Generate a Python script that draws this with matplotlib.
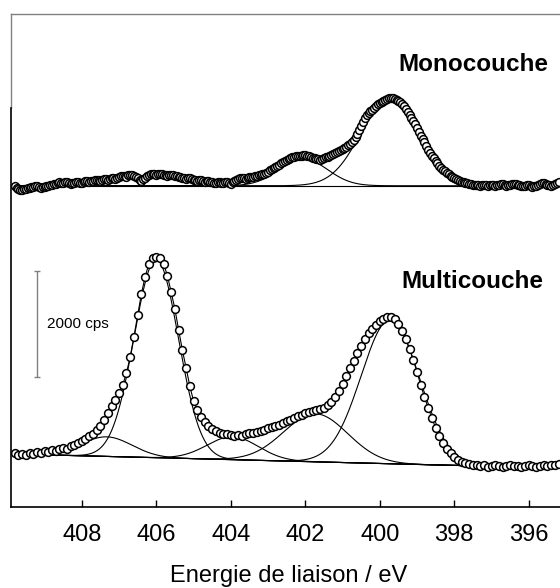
import numpy as np
import matplotlib
matplotlib.use("Agg")
from matplotlib import pyplot as plt

plt.rcParams["font.family"] = ["Liberation Sans", "DejaVu Sans"]

# binding energy grids of the spectrometer (eV)
e_start = 409.8
multi_step = 0.1
mono_step = 0.05

# N 1s multilayer spectrum (cps)
multi_cps = [
    1020, 980, 1000, 980, 1020, 1000, 1040, 1020, 1060, 1040,
    1075, 1055, 1095, 1115, 1095, 1150, 1170, 1210, 1245, 1285,
    1340, 1380, 1455, 1530, 1640, 1775, 1905, 2020, 2150, 2300,
    2530, 2830, 3210, 3620, 4020, 4340, 4585, 4700, 4720, 4700,
    4585, 4360, 4055, 3735, 3340, 2965, 2625, 2285, 2000, 1830,
    1700, 1605, 1530, 1470, 1435, 1395, 1380, 1380, 1360, 1340,
    1360, 1340, 1380, 1395, 1395, 1415, 1435, 1455, 1490, 1510,
    1530, 1545, 1585, 1625, 1640, 1680, 1715, 1735, 1775, 1795,
    1810, 1830, 1850, 1870, 1925, 1980, 2075, 2190, 2320, 2470,
    2625, 2755, 2905, 3040, 3170, 3285, 3360, 3435, 3510, 3550,
    3585, 3585, 3550, 3455, 3320, 3170, 2980, 2775, 2545, 2300,
    2075, 1870, 1680, 1490, 1340, 1210, 1095, 1020, 945, 885,
    850, 830, 810, 795, 790, 775, 795, 755, 775, 795,
    775, 755, 775, 795, 775, 770, 755, 775, 795, 775,
    755, 775, 795, 775, 790, 795, 810,
]

# N 1s monolayer spectrum (cps), finer step, plotted with a vertical offset
mono_cps = [
    1000, 965, 945, 920, 925, 940, 945, 965, 960, 975,
    980, 990, 1000, 975, 960, 970, 980, 995, 1000, 1005,
    1020, 1035, 1040, 1060, 1075, 1060, 1055, 1070, 1075, 1055,
    1040, 1050, 1055, 1070, 1075, 1060, 1055, 1080, 1095, 1085,
    1075, 1090, 1095, 1110, 1115, 1100, 1095, 1115, 1130, 1120,
    1115, 1135, 1150, 1140, 1130, 1155, 1170, 1185, 1190, 1175,
    1170, 1195, 1210, 1200, 1190, 1170, 1150, 1115, 1095, 1120,
    1150, 1185, 1210, 1220, 1225, 1215, 1210, 1220, 1225, 1215,
    1210, 1200, 1190, 1205, 1210, 1195, 1190, 1180, 1170, 1160,
    1150, 1140, 1130, 1145, 1150, 1130, 1115, 1100, 1095, 1105,
    1115, 1090, 1075, 1085, 1095, 1080, 1075, 1060, 1055, 1070,
    1075, 1060, 1055, 1065, 1075, 1055, 1040, 1070, 1095, 1115,
    1130, 1140, 1150, 1140, 1130, 1150, 1170, 1165, 1170, 1180,
    1190, 1200, 1210, 1220, 1225, 1245, 1265, 1290, 1320, 1340,
    1360, 1380, 1395, 1425, 1455, 1475, 1490, 1510, 1530, 1540,
    1545, 1555, 1565, 1560, 1565, 1575, 1585, 1570, 1565, 1545,
    1530, 1520, 1510, 1500, 1490, 1510, 1530, 1540, 1545, 1565,
    1585, 1605, 1625, 1645, 1660, 1680, 1700, 1720, 1735, 1765,
    1795, 1830, 1870, 1925, 1980, 2055, 2130, 2210, 2285, 2335,
    2380, 2410, 2435, 2475, 2510, 2540, 2565, 2585, 2605, 2625,
    2640, 2655, 2660, 2650, 2640, 2625, 2605, 2575, 2545, 2500,
    2455, 2400, 2340, 2285, 2225, 2160, 2095, 2020, 1945, 1885,
    1830, 1755, 1680, 1620, 1565, 1515, 1470, 1425, 1380, 1340,
    1300, 1270, 1245, 1215, 1190, 1170, 1150, 1130, 1115, 1095,
    1075, 1065, 1055, 1045, 1040, 1030, 1020, 1015, 1020, 1005,
    1000, 1010, 1020, 1005, 1000, 1015, 1020, 1010, 1000, 1010,
    1020, 1030, 1040, 1020, 1000, 1010, 1020, 1035, 1040, 1030,
    1020, 1010, 1000, 995, 1000, 1010, 1020, 1000, 980, 990,
    1000, 1020, 1040, 1050, 1055, 1040, 1020, 1005, 1000, 1020,
    1040, 1060, 1075,
]
mono_offset = 5060

# fitted components: centre (eV), height (cps), sigma (eV)
multi_centres = [407.33, 406.0, 403.95, 401.72, 399.72]
multi_heights = [370, 3740, 434, 906, 2717]
multi_sigmas = [0.68, 0.595, 0.685, 0.86, 0.78]
multi_bg_e = [409.9, 397.5, 395.0]
multi_bg = [1000, 775, 775]

mono_centres = [402.05, 399.72]
mono_heights = [510, 1660]
mono_sigmas = [0.64, 0.78]
mono_bg = 1000

x_ticks = [408, 406, 404, 402, 400, 398, 396]


def gauss(e, centre, height, sigma):
    return height * np.exp(-(e - centre) ** 2 / (2.0 * sigma ** 2))


e_multi = np.round(e_start - multi_step * np.arange(len(multi_cps)), 2)
e_mono = np.round(e_start - mono_step * np.arange(len(mono_cps)), 2)
e_fine = np.linspace(409.9, 395.0, 800)

fig = plt.figure(figsize=(5.6, 5.88), dpi=100)
ax = fig.add_axes([11 / 560, 81 / 588, 555 / 560, 493 / 588])

mk = dict(marker="o", ms=5.6, mfc="white", mec="black", mew=1.1,
          color="black", lw=0.8)

# multicouche
bg_m = np.interp(e_fine, multi_bg_e[::-1], multi_bg[::-1])
ax.plot(e_fine, bg_m, color="black", lw=0.8)
for c, h, s in zip(multi_centres, multi_heights, multi_sigmas):
    ax.plot(e_fine, bg_m + gauss(e_fine, c, h, s), color="black", lw=0.8)
ax.plot(e_multi, multi_cps, **mk)

# monocouche
ax.plot(e_fine, np.full_like(e_fine, mono_bg + mono_offset), color="black", lw=0.8)
for c, h, s in zip(mono_centres, mono_heights, mono_sigmas):
    ax.plot(e_fine, mono_bg + mono_offset + gauss(e_fine, c, h, s),
            color="black", lw=0.8)
ax.plot(e_mono, np.array(mono_cps) + mono_offset, **mk)

# scale bar
ax.errorbar([409.21], [3450], yerr=[1000], color="#808080", lw=1.0,
            capsize=2.5, capthick=1.0)
ax.text(408.94, 3450, "2000 cps", fontsize=11, ha="left", va="center")

ax.text(399.49, 8340, "Monocouche", fontsize=17.5, fontweight="bold",
        ha="left", va="center")
ax.text(399.41, 4246, "Multicouche", fontsize=17.5, fontweight="bold",
        ha="left", va="center")

ax.set_xlim(409.9, 395.0)
ax.set_ylim(0, 9300)
ax.set_xticks(x_ticks)
ax.set_yticks([])
ax.tick_params(axis="x", direction="in", length=5, width=1.0,
               labelsize=17, pad=12)
ax.set_xlabel("Energie de liaison / eV", fontsize=17, labelpad=14)

ax.spines["right"].set_visible(False)
ax.spines["top"].set_color("#808080")
ax.spines["top"].set_linewidth(1.0)
ax.spines["bottom"].set_linewidth(1.2)
ax.spines["left"].set_linewidth(1.2)
ax.spines["left"].set_bounds(0, 7530)
ax.plot([409.9, 409.9], [7530, 9300], color="#808080", lw=1.0, clip_on=False)

fig.savefig("out.png", dpi=100)
